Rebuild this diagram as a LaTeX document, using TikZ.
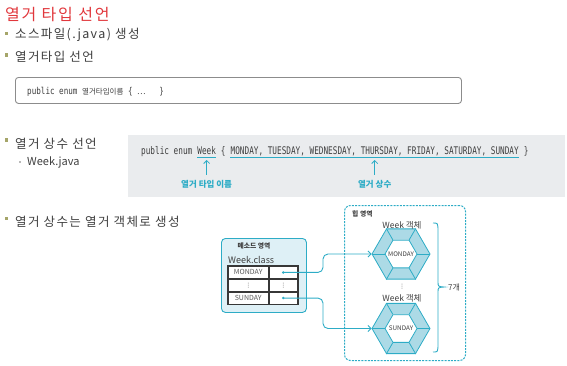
\documentclass[tikz,border=0pt]{standalone}
\usepackage{fontspec}
\setmainfont{Noto Sans CJK KR}
\newfontfamily\bodyfont[LetterSpace=11]{Noto Sans CJK KR}
\newfontfamily\codefont[FakeStretch=0.735]{DejaVu Sans Mono}
\newfontfamily\codefontb[FakeStretch=0.8]{DejaVu Sans Mono}
\newfontfamily\symfont{DejaVu Sans}
\usetikzlibrary{shapes.geometric, arrows.meta, calc}
\definecolor{titlered}{RGB}{225,55,60}
\definecolor{bulletc}{RGB}{165,165,105}
\definecolor{subbullet}{RGB}{185,185,185}
\definecolor{textc}{RGB}{62,62,62}
\definecolor{tealc}{RGB}{45,172,198}
\definecolor{mboxbg}{RGB}{222,240,246}
\definecolor{hexfill}{RGB}{172,218,230}
\definecolor{codebg}{RGB}{234,236,238}
\definecolor{boxc}{RGB}{140,140,140}
\definecolor{tablec}{RGB}{55,55,55}
\definecolor{cellc}{RGB}{90,90,90}
\tikzset{
  bulletsq/.style={rectangle, fill=bulletc, minimum size=3.3pt, inner sep=0},
  btext/.style={anchor=west, inner sep=0, text=textc, font=\bodyfont\fontsize{12.5}{15}\selectfont},
  code/.style={anchor=base west, inner sep=0, text=textc, font=\codefont\fontsize{10.5}{12}\selectfont},
  lbl/.style={inner sep=0, text=tealc, font=\bfseries\fontsize{8.5}{10}\selectfont},
  tline/.style={draw=tealc, line width=0.8pt},
  tarr/.style={draw=tealc, line width=0.8pt, -{Straight Barb[length=3pt,width=6pt]}},
  conn/.style={draw=tealc, line width=0.9pt, rounded corners=5pt, -{Straight Barb[length=3pt,width=6pt]}},
  cellL/.style={rectangle, draw=tablec, line width=0.5pt, fill=white, minimum width=40pt, minimum height=12.33pt, inner sep=0},
  cellR/.style={cellL, minimum width=29pt},
  celltext/.style={inner sep=0, text=cellc, font=\fontsize{7}{8}\selectfont},
  vdot/.style={inner sep=0, text=cellc, font=\symfont\fontsize{6}{6}\selectfont},
  hexo/.style={regular polygon, regular polygon sides=6, minimum size=58pt, inner sep=0, draw=tealc, fill=hexfill, line width=0.8pt},
  hexi/.style={regular polygon, regular polygon sides=6, minimum size=32pt, inner sep=0, draw=tealc, fill=white, line width=0.8pt},
  hextext/.style={inner sep=0, text=textc, font=\fontsize{6.3}{7}\selectfont},
  objlbl/.style={inner sep=0, text=textc, font=\fontsize{8.5}{10}\selectfont},
  smallbold/.style={inner sep=0, text=textc, font=\bfseries\fontsize{6.8}{8}\selectfont},
  dotc/.style={circle, fill=tealc, inner sep=0, minimum size=2.8pt}
}
\begin{document}
\begin{tikzpicture}[x=1pt,y=-1pt]
\useasboundingbox (0,0) rectangle (567,365);

% title and bullets
\node[anchor=west, inner sep=0, text=titlered, font=\bodyfont\fontsize{16}{19}\selectfont] (title) at (5,15) {열거 타입 선언};
\node[bulletsq] (b1) at (6.7,33.3) {};
\node[btext] (t1) at (15,34.5) {소스파일(.java) 생성};
\node[bulletsq] (b2) at (6.7,55) {};
\node[btext] (t2) at (15,57) {열거타입 선언};

% code box 1
\node[draw=boxc, line width=0.9pt, rounded corners=3pt, fill=white, minimum width=446pt, minimum height=26pt, anchor=north west, inner sep=0] (box1) at (15,77) {};
\node[anchor=west, inner sep=0, text=textc] (code1) at ([xshift=12pt,yshift=-1pt]box1.west)
  {{\codefontb\fontsize{9.5}{11}\selectfont public enum\phantom{x}}{\fontsize{7.5}{9}\selectfont 열거타입이름}{\codefontb\fontsize{9.5}{11}\selectfont\phantom{x}\{\phantom{x}}{\fontsize{8}{9}\selectfont …}{\codefontb\fontsize{9.5}{11}\selectfont\phantom{xxx}\}}};

% bullet 3
\node[bulletsq] (b3) at (6.7,140) {};
\node[btext] (t3) at (15,144) {열거 상수 선언};
\node[rectangle, fill=subbullet, minimum size=2.6pt, inner sep=0] (sb) at (20,162) {};
\node[anchor=west, inner sep=0, text=textc, font=\fontsize{11}{13}\selectfont] (t3a) at (27,162) {Week.java};

% code box 2
\node[fill=codebg, minimum width=437pt, minimum height=62pt, anchor=north west, inner sep=0] (box2) at (128,135) {};
\node[code] (c1) at (141,154) {public enum\phantom{x}};
\node[code] (wk) at (c1.base east) {Week};
\node[code] (c2) at (wk.base east) {\phantom{x}\{\phantom{x}};
\node[code] (cs) at (c2.base east) {MONDAY, TUESDAY, WEDNESDAY, THURSDAY, FRIDAY, SATURDAY, SUNDAY};
\node[code] (c3) at (cs.base east) {\phantom{x}\}};
\draw[tline] ($(wk.base west)+(0,3)$) -- ($(wk.base east)+(0,3)$);
\draw[tline] ($(cs.base west)+(0,3)$) -- ($(cs.base east)+(0,3)$);
\node[lbl] (l1) at ($(wk.base)+(0,30)$) {열거 타입 이름};
\node[lbl] (l2) at ($(cs.base)+(0,30)$) {열거 상수};
\draw[tarr] ($(l1.north)+(0,-5)$) -- ($(wk.base)+(0,6)$);
\draw[tarr] ($(l2.north)+(0,-5)$) -- ($(cs.base)+(0,6)$);

% bullet 4
\node[bulletsq] (b4) at (6.7,218.5) {};
\node[btext] (t4) at (15,222) {열거 상수는 열거 객체로 생성};

% method area
\node[draw=tealc, fill=mboxbg, rounded corners=4pt, line width=0.9pt, minimum width=85pt, minimum height=74pt, anchor=north west, inner sep=0] (mbox) at (221,238) {};
\node[smallbold] (mtitle) at (254,246) {메소드 영역};
\node[anchor=west, inner sep=0, text=textc, font=\fontsize{9}{11}\selectfont] (wclass) at (228,260) {Week.class};
\node[cellL, anchor=north west] (m1) at (228,266) {};
\node[cellL, anchor=north] (m2) at (m1.south) {};
\node[cellL, anchor=north] (m3) at (m2.south) {};
\node[cellR, anchor=west] (r1) at (m1.east) {};
\node[cellR, anchor=west] (r2) at (m2.east) {};
\node[cellR, anchor=west] (r3) at (m3.east) {};
\draw[tablec, line width=1.2pt] (m1.north west) rectangle (r3.south east);
\node[celltext] (m1t) at (m1.center) {MONDAY};
\node[vdot] (m2t) at (m2.center) {⋮};
\node[celltext] (m3t) at (m3.center) {SUNDAY};
\node[vdot] (r2t) at (r2.center) {⋮};
\node[dotc] (d1) at (r1.center) {};
\node[dotc] (d2) at (r3.center) {};

% heap area
\node[draw=tealc, dash pattern=on 2pt off 1.2pt, line width=1pt, rounded corners=6pt, minimum width=121pt, minimum height=155pt, anchor=north west, inner sep=0] (heap) at (344,205) {};
\node[smallbold, anchor=west] (heapt) at (352,214) {힙 영역};

% hexagons
\node[hexo] (h1) at (401,254) {};
\node[hexi] (hi1) at (h1.center) {};
\foreach \k in {1,...,6} \draw[tealc, line width=0.8pt] (h1.corner \k) -- (hi1.corner \k);
\node[hextext] (ht1) at (h1.center) {MONDAY};
\node[objlbl] (w1) at (402,225) {Week 객체};

\node[vdot] (vd) at (402,287) {⋮};

\node[hexo] (h2) at (401,328.5) {};
\node[hexi] (hi2) at (h2.center) {};
\foreach \k in {1,...,6} \draw[tealc, line width=0.8pt] (h2.corner \k) -- (hi2.corner \k);
\node[hextext] (ht2) at (h2.center) {SUNDAY};
\node[objlbl] (w2) at (402,298) {Week 객체};

% connectors
\coordinate (jx) at (323,0);
\draw[conn] (d1.center) -- (d1.center -| jx) -- (jx |- h1.west) -- (h1.west);
\draw[conn] (d2.center) -- (d2.center -| jx) -- (jx |- h2.west) -- (h2.west);

% brace
\draw[tealc, line width=0.9pt] (433,223) .. controls (437.5,223) .. (438,228) -- (438,282) .. controls (438,286.5) .. (444,287) .. controls (438,287.5) .. (438,292) -- (438,347) .. controls (437.5,352) .. (433,352);
\node[anchor=west, inner sep=0, text=textc, font=\fontsize{8}{10}\selectfont] (seven) at (448,287) {7개};
\end{tikzpicture}
\end{document}
